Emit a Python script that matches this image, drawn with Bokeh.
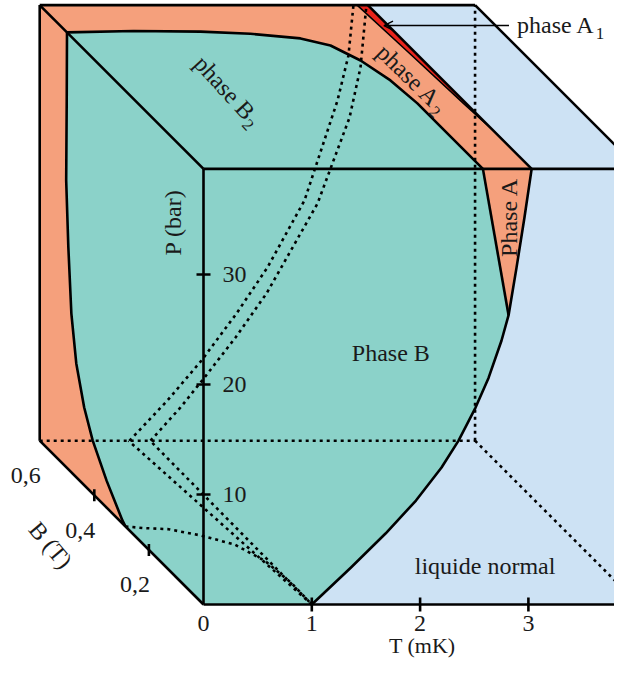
import math
from bokeh.plotting import figure
from bokeh.models import Range1d, Arrow, OpenHead
from bokeh.core.properties import value
from bokeh.embed import file_html
from bokeh.resources import INLINE

# ---------------- data (T in mK, B in tesla, P in bar) ----------------
T_MAX = 4.02
B_MAX = 0.6
P_MAX = 39.6

t_tick_values = [1, 2, 3]
t_label_values = [0, 1, 2, 3]
t_labels = ["0", "1", "2", "3"]
p_tick_values = [10, 20, 30]
p_labels = ["10", "20", "30"]
b_tick_values = [0.2, 0.4]
b_label_values = [0.2, 0.4, 0.6]
b_labels = ["0,2", "0,4", "0,6"]

# front face (B = 0): normal / superfluid line Tc(P)
tc_T = [1.00, 1.362, 1.681, 1.962, 2.198, 2.355, 2.512, 2.632, 2.752, 2.817, 2.89, 2.964, 3.03]
tc_P = [0.0, 3.36, 6.45, 9.45, 12.45, 14.9, 17.9, 20.6, 24.0, 26.3, 30.6, 35.2, 39.6]
pcp_index = 9                      # polycritical point (T=2.82, P=26.3)
ab_T = [2.817, 2.58]               # A-B line on front face
ab_P = [26.3, 39.6]

# left face (T = 0): B2 / A2 boundary B(P)
left_B = [0.286, 0.297, 0.355, 0.406, 0.437, 0.466, 0.484, 0.495, 0.503, 0.501, 0.500]
left_P = [0.0, 0.27, 2.45, 4.85, 7.06, 10.35, 14.44, 20.16, 26.07, 33.38, 39.6]

# top face (P = P_MAX): B2 / A2 boundary
top_T = [0.0, 0.627, 1.241, 1.681, 2.10, 2.312, 2.451, 2.543, 2.58, 2.58, 2.58, 2.58]
top_B = [0.500, 0.505, 0.503, 0.495, 0.478, 0.452, 0.397, 0.324, 0.240, 0.155, 0.078, 0.0]
a1_T_high = 3.03                     # A1 / normal on top face
a1_low_T = [2.931, 2.97, 3.005, 3.03]  # A2 / A1 on top face
a1_low_B = [0.60, 0.42, 0.24, 0.14]

# bottom face (P = 0): B2 boundary and A1 lines
floor_T = [0.0, 0.15, 0.37, 0.61, 0.84, 0.97, 1.01, 1.0]
floor_B = [0.286, 0.280, 0.276, 0.253, 0.220, 0.160, 0.080, 0.0]
floor_a1_T = [[1.0, 0.82], [1.0, 1.02]]
floor_a1_B = [[0.0, 0.6], [0.0, 0.6]]

# back face (B = 0.6): A2/A1 and A1/normal lines
back1_T = [0.829, 1.18, 1.494, 1.817, 2.103, 2.445, 2.750, 2.851, 2.897]
back1_P = [0.0, 3.66, 7.29, 11.56, 15.75, 21.84, 30.93, 35.02, 39.6]
back2_T = [1.023, 1.300, 1.522, 1.808, 2.094, 2.565, 2.861, 2.962, 3.017]
back2_P = [0.0, 3.02, 5.75, 9.38, 13.38, 21.56, 29.38, 33.93, 39.6]

# ---------------- colours ----------------
TEAL = "#8bd2c9"
SALMON = "#f5a07c"
BLUE = "#cde2f4"
RED = "#e8231b"
INK = "#1a1a1a"

# ---------------- oblique projection ----------------
OX, OY = 203.0, 604.0
KT, KP, KB = 108.3, 11.0, 273.0


def pj(T, B, P):
    n = max(len(v) if isinstance(v, (list, tuple)) else 1 for v in (T, B, P))
    f = lambda v: list(v) if isinstance(v, (list, tuple)) else [v] * n
    T, B, P = f(T), f(B), f(P)
    xs = [OX + KT * t - KB * b for t, b in zip(T, B)]
    ys = [OY - KP * p - KB * b for p, b in zip(P, B)]
    return xs, ys


def cat(*parts):
    xs, ys = [], []
    for x, y in parts:
        xs += x
        ys += y
    return xs, ys


p = figure(width=614, height=659, output_backend="svg", toolbar_location=None,
           x_range=Range1d(0, 614), y_range=Range1d(659, 0),
           min_border=0, outline_line_color=None)
p.xaxis.visible = False
p.yaxis.visible = False
p.grid.visible = False
p.background_fill_color = "white"
p.border_fill_color = "white"

# ----- left face (T = 0)
x, y = pj(0, [0, B_MAX, B_MAX, 0], [0, 0, P_MAX, P_MAX])
p.patch(x, y, fill_color=TEAL, line_color=None)
x, y = cat(pj(0, left_B, left_P), pj(0, [B_MAX, B_MAX], [P_MAX, 0]))
p.patch(x, y, fill_color=SALMON, line_color=None)

# ----- top face (P = P_MAX)
x, y = pj([0, 0, T_MAX, T_MAX], [0, B_MAX, B_MAX, 0], P_MAX)
p.patch(x, y, fill_color=BLUE, line_color=None)
x, y = pj([0, 0, a1_T_high, a1_T_high], [0, B_MAX, B_MAX, 0], P_MAX)
p.patch(x, y, fill_color=SALMON, line_color=None)
x, y = cat(pj(a1_low_T, a1_low_B, P_MAX),
           pj([a1_T_high, a1_T_high], [a1_low_B[-1], B_MAX], P_MAX))
p.patch(x, y, fill_color=RED, line_color=None)
x, y = cat(pj(top_T, top_B, P_MAX), pj([0], [0], P_MAX))
p.patch(x, y, fill_color=TEAL, line_color=None)

# ----- front face (B = 0)
x, y = pj([0, T_MAX, T_MAX, 0], 0, [0, 0, P_MAX, P_MAX])
p.patch(x, y, fill_color=BLUE, line_color=None)
x, y = cat(pj([0], 0, [0]), pj(tc_T[:pcp_index + 1], 0, tc_P[:pcp_index + 1]),
           pj([ab_T[1], 0], 0, [ab_P[1], P_MAX]))
p.patch(x, y, fill_color=TEAL, line_color=None)
x, y = cat(pj(tc_T[pcp_index:], 0, tc_P[pcp_index:]), pj([ab_T[1]], 0, [ab_P[1]]))
p.patch(x, y, fill_color=SALMON, line_color=None)

# ----- hidden (dotted) lines
DOT = dict(line_color="black", line_width=2.6, line_dash="3 4")
hx, hy = [], []
for seg in [pj([0, T_MAX], B_MAX, 0), pj(T_MAX, B_MAX, [0, P_MAX]),
            pj(T_MAX, [B_MAX, 0], 0), pj(floor_T, floor_B, 0),
            pj(floor_a1_T[0], floor_a1_B[0], 0), pj(floor_a1_T[1], floor_a1_B[1], 0),
            pj(back1_T, B_MAX, back1_P), pj(back2_T, B_MAX, back2_P)]:
    hx.append(seg[0])
    hy.append(seg[1])
p.multi_line(hx, hy, **DOT)

# ----- visible edges and phase lines
SOLID = dict(line_color="black", line_width=2.6, line_join="round")
sx, sy = [], []
for seg in [pj([0, T_MAX], 0, 0), pj(0, 0, [0, P_MAX]), pj([0, T_MAX], 0, P_MAX),
            pj(T_MAX, 0, [0, P_MAX]), pj(0, [0, B_MAX], 0), pj(0, B_MAX, [0, P_MAX]),
            pj(0, [B_MAX, 0], P_MAX), pj([0, T_MAX], B_MAX, P_MAX),
            pj(T_MAX, [B_MAX, 0], P_MAX),
            pj(0, left_B, left_P), pj(top_T, top_B, P_MAX),
            pj(a1_T_high, [0, B_MAX], P_MAX), pj(tc_T, 0, tc_P), pj(ab_T, 0, ab_P)]:
    sx.append(seg[0])
    sy.append(seg[1])
p.multi_line(sx, sy, **SOLID)
x, y = cat(pj(a1_low_T, a1_low_B, P_MAX), pj([a1_T_high], [0.08], P_MAX))
p.line(x, y, line_color="black", line_width=1.5)

# ----- ticks
tx, ty = [], []
for t in t_tick_values:
    cx, cy = pj(t, 0, 0)
    tx.append([cx[0], cx[0]]); ty.append([cy[0] - 7, cy[0] + 7])
for pv in p_tick_values:
    cx, cy = pj(0, 0, pv)
    tx.append([cx[0] - 7, cx[0] + 7]); ty.append([cy[0], cy[0]])
for b in b_tick_values:
    cx, cy = pj(0, b, 0)
    tx.append([cx[0], cx[0]]); ty.append([cy[0] - 6, cy[0] + 6])
p.multi_line(tx, ty, line_color="black", line_width=2.6)

FONT = dict(text_font=value("Liberation Serif"), text_font_size="24px", text_color=INK)
SUB = dict(text_font=value("Liberation Serif"), text_font_size="17px", text_color=INK)


def label_sub(cx, cy, main, sub, ang, w, drop=8):
    """main text centred at (cx, cy), rotated clockwise by ang; subscript after it"""
    dx, dy = math.cos(ang), math.sin(ang)
    nx, ny = -math.sin(ang), math.cos(ang)
    p.text([cx], [cy], text=[main], angle=-ang, text_align="center",
           text_baseline="middle", **FONT)
    s = w / 2 + 5
    p.text([cx + s * dx + drop * nx], [cy + s * dy + drop * ny], text=[sub], angle=-ang,
           text_align="center", text_baseline="middle", **SUB)


# tick labels
x, y = pj(t_label_values, 0, 0)
p.text(x, [v + 19 for v in y], text=t_labels, text_align="center",
       text_baseline="middle", **FONT)
x, y = pj(0, 0, p_tick_values)
p.text([v + 19 for v in x], y, text=p_labels, text_align="left",
       text_baseline="middle", **FONT)
x, y = pj(0, b_label_values, 0)
p.text([v - 14 for v in x], [v + 35 for v in y], text=b_labels, text_align="center",
       text_baseline="middle", **FONT)

# axis titles
x, y = pj(2.02, 0, 0)
p.text(x, [y[0] + 41], text=["T (mK)"], text_align="center", text_baseline="middle",
       text_font=value("Liberation Serif"), text_font_size="22px", text_color=INK)
x, y = pj(0, 0.11, 32.0)
p.text(x, y, text=["P (bar)"], angle=math.pi / 2, text_align="center",
       text_baseline="middle", **FONT)
x, y = pj(0, 0.56, -8.5)
p.text(x, y, text=["B (T)"], angle=-0.87, text_align="center",
       text_baseline="middle", **FONT)

# phase labels
x, y = pj(1.73, 0, 22.9)
p.text(x, y, text=["Phase B"], text_align="center", text_baseline="middle", **FONT)
x, y = pj(2.6, 0, 3.5)
p.text(x, y, text=["liquide normal"], text_align="center", text_baseline="middle", **FONT)
x, y = pj(2.82, 0, 35.2)
p.text(x, y, text=["Phase A"], angle=math.pi / 2, text_align="center",
       text_baseline="middle", **FONT)
x, y = pj(2.755, 0.342, P_MAX)
label_sub(x[0], y[0], "phase A", "2", 0.77, 78)
x, y = pj(0.945, 0.298, P_MAX)
label_sub(x[0], y[0], "phase B", "2", 0.83, 77)

# phase A1 pointer
ax, ay = pj(2.99, 0.525, P_MAX)
p.add_layout(Arrow(end=OpenHead(size=9, line_width=1.5, line_color="black"),
                   x_start=ax[0] + 125, y_start=ay[0], x_end=ax[0], y_end=ay[0],
                   line_width=1.5, line_color="black"))
label_sub(ax[0] + 133 + 39, ay[0] - 1, "phase A", "1", 0.0, 78, drop=9)

open("out.html", "w").write(file_html(p, INLINE))
